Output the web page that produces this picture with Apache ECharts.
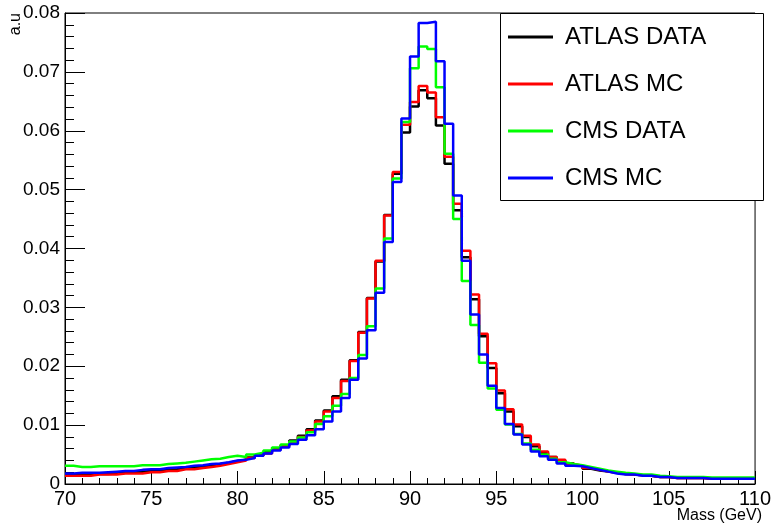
<!DOCTYPE html>
<html>
<head>
<meta charset="utf-8">
<script src="https://cdn.jsdelivr.net/npm/echarts@6/dist/echarts.min.js"></script>
<style>
  html, body { margin: 0; padding: 0; background: #fff; }
  #chart { width: 774px; height: 526px; }
</style>
</head>
<body>
<div id="chart"></div>
<script>
// Histogramas de masa invariante, 80 bins de 0.5 GeV entre 70 y 110
const massMin = 70;
const binWidth = 0.5;
const seriesNames = ['ATLAS DATA', 'ATLAS MC', 'CMS DATA', 'CMS MC'];
const seriesColors = ['#000000', '#ff0000', '#00ff00', '#0000ff'];
const yTicks = [0, 0.01, 0.02, 0.03, 0.04, 0.05, 0.06, 0.07, 0.08];

const atlasData = [
  0.0016, 0.0016, 0.0016, 0.0017, 0.0017, 0.0018, 0.0019, 0.0020, 0.0021, 0.0022,
  0.0023, 0.0024, 0.0025, 0.0027, 0.0028, 0.0030, 0.0032, 0.0034, 0.0036, 0.0039,
  0.0041, 0.0045, 0.0049, 0.0054, 0.0059, 0.0066, 0.0074, 0.0082, 0.0093, 0.0108,
  0.0125, 0.0149, 0.0177, 0.0210, 0.0258, 0.0316, 0.0378, 0.0457, 0.0527, 0.0597,
  0.0641, 0.0669, 0.0655, 0.0609, 0.0544, 0.0465, 0.0385, 0.0314, 0.0251, 0.0197,
  0.0154, 0.0123, 0.0098, 0.0080, 0.0064, 0.0053, 0.0046, 0.0040, 0.0035, 0.0031,
  0.0026, 0.0023, 0.0021, 0.0019, 0.0017, 0.0016, 0.0015, 0.0014, 0.0012, 0.0012,
  0.0010, 0.0010, 0.0010, 0.0010, 0.0009, 0.0009, 0.0009, 0.0009, 0.0009, 0.0009
];
const atlasMC = [
  0.0014, 0.0014, 0.0014, 0.0016, 0.0016, 0.0016, 0.0018, 0.0018, 0.0018, 0.0020,
  0.0020, 0.0022, 0.0022, 0.0025, 0.0025, 0.0027, 0.0029, 0.0031, 0.0034, 0.0037,
  0.0040, 0.0044, 0.0048, 0.0052, 0.0058, 0.0064, 0.0071, 0.0080, 0.0091, 0.0106,
  0.0123, 0.0146, 0.0175, 0.0209, 0.0257, 0.0315, 0.0379, 0.0456, 0.0530, 0.0610,
  0.0649, 0.0676, 0.0665, 0.0623, 0.0556, 0.0476, 0.0396, 0.0322, 0.0255, 0.0205,
  0.0159, 0.0127, 0.0101, 0.0082, 0.0067, 0.0055, 0.0046, 0.0041, 0.0034, 0.0031,
  0.0027, 0.0024, 0.0021, 0.0019, 0.0017, 0.0016, 0.0015, 0.0014, 0.0012, 0.0012,
  0.0010, 0.0010, 0.0010, 0.0010, 0.0009, 0.0009, 0.0009, 0.0009, 0.0009, 0.0009
];
const cmsData = [
  0.0031, 0.0029, 0.0029, 0.0030, 0.0030, 0.0030, 0.0030, 0.0030, 0.0032, 0.0032,
  0.0032, 0.0034, 0.0035, 0.0036, 0.0038, 0.0040, 0.0042, 0.0043, 0.0046, 0.0048,
  0.0046, 0.0050, 0.0053, 0.0057, 0.0062, 0.0067, 0.0072, 0.0079, 0.0088, 0.0102,
  0.0115, 0.0133, 0.0153, 0.0180, 0.0219, 0.0268, 0.0332, 0.0417, 0.0519, 0.0615,
  0.0706, 0.0743, 0.0739, 0.0674, 0.0561, 0.0450, 0.0345, 0.0270, 0.0206, 0.0162,
  0.0126, 0.0101, 0.0085, 0.0069, 0.0058, 0.0050, 0.0043, 0.0037, 0.0034, 0.0032,
  0.0029, 0.0026, 0.0023, 0.0021, 0.0019, 0.0018, 0.0016, 0.0016, 0.0014, 0.0013,
  0.0012, 0.0012, 0.0012, 0.0012, 0.0011, 0.0011, 0.0011, 0.0011, 0.0011, 0.0011
];
const cmsMC = [
  0.0018, 0.0019, 0.0019, 0.0019, 0.0020, 0.0021, 0.0022, 0.0022, 0.0024, 0.0025,
  0.0025, 0.0027, 0.0028, 0.0029, 0.0031, 0.0032, 0.0034, 0.0035, 0.0037, 0.0040,
  0.0041, 0.0044, 0.0048, 0.0052, 0.0057, 0.0062, 0.0068, 0.0075, 0.0083, 0.0093,
  0.0106, 0.0123, 0.0146, 0.0177, 0.0213, 0.0261, 0.0325, 0.0411, 0.0513, 0.0621,
  0.0726, 0.0783, 0.0785, 0.0718, 0.0612, 0.0490, 0.0379, 0.0288, 0.0220, 0.0167,
  0.0129, 0.0102, 0.0084, 0.0067, 0.0055, 0.0047, 0.0041, 0.0035, 0.0031, 0.0030,
  0.0027, 0.0024, 0.0021, 0.0018, 0.0016, 0.0016, 0.0014, 0.0014, 0.0012, 0.0012,
  0.0010, 0.0010, 0.0010, 0.0010, 0.0009, 0.0009, 0.0009, 0.0009, 0.0009, 0.0009
];

// Convertir los bins en puntos [borde izquierdo, valor] para dibujar escalones
function toSteps(values) {
  const pts = values.map((v, i) => [massMin + i * binWidth, v]);
  pts.push([massMin + values.length * binWidth, values[values.length - 1]]);
  return pts;
}

const allValues = [atlasData, atlasMC, cmsData, cmsMC];
const font = 'Liberation Sans, Arial, Helvetica, sans-serif';

const chart = echarts.init(document.getElementById('chart'));
const option = {
  animation: false,
  grid: {
    left: 65, right: 11, top: 13, bottom: 42,
    show: true, borderColor: '#000', borderWidth: 1, backgroundColor: '#fff'
  },
  legend: {
    orient: 'vertical',
    left: 508,
    top: 25,
    z: 100,
    padding: 0,
    itemWidth: 45,
    itemHeight: 3,
    itemGap: 23,
    icon: 'rect',
    data: seriesNames,
    textStyle: { fontFamily: font, fontSize: 24, color: '#000', lineHeight: 24, padding: [0, 0, 0, 7] }
  },
  graphic: [
    {
      type: 'rect', left: 500, top: 13, z: 5,
      shape: { width: 263, height: 187 },
      style: { fill: '#fff', stroke: '#000', lineWidth: 1 }
    },
    {
      type: 'text', x: 16, y: 13, rotation: Math.PI / 2,
      style: { text: 'a.u', font: '16px ' + font, fill: '#000', textAlign: 'right', textVerticalAlign: 'middle' }
    },
    {
      type: 'text', x: 762, y: 516,
      style: { text: 'Mass (GeV)', font: '16px ' + font, fill: '#000', textAlign: 'right', textVerticalAlign: 'middle' }
    }
  ],
  xAxis: {
    type: 'value',
    min: 70, max: 110, interval: 5,
    axisLine: { lineStyle: { color: '#000' } },
    axisTick: { inside: true, length: 13, lineStyle: { color: '#000' } },
    minorTick: { show: true, splitNumber: 5, length: 6, lineStyle: { color: '#000' } },
    splitLine: { show: false },
    axisLabel: { margin: 5, fontFamily: font, fontSize: 20, color: '#000' }
  },
  yAxis: {
    type: 'value',
    min: yTicks[0], max: yTicks[yTicks.length - 1], interval: 0.01,
    axisLine: { show: true, lineStyle: { color: '#000' } },
    axisTick: { show: true, inside: true, length: 20, lineStyle: { color: '#000' } },
    minorTick: { show: true, splitNumber: 5, length: 9, lineStyle: { color: '#000' } },
    splitLine: { show: false },
    axisLabel: { margin: 5, fontFamily: font, fontSize: 19, color: '#000' }
  },
  series: seriesNames.map((name, i) => ({
    name: name,
    type: 'line',
    step: 'end',
    symbol: 'none',
    color: seriesColors[i],
    lineStyle: { width: 2.5, color: seriesColors[i] },
    data: toSteps(allValues[i])
  }))
};
chart.setOption(option);
</script>
</body>
</html>
